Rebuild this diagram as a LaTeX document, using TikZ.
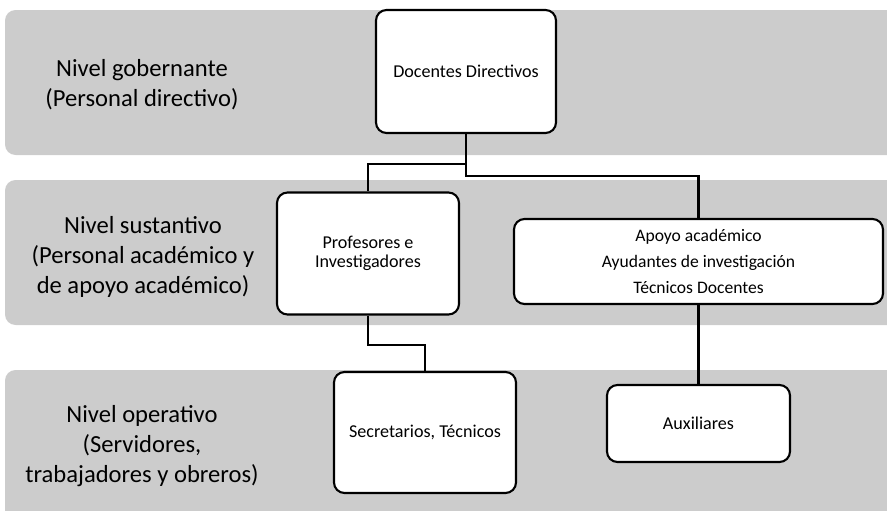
\documentclass[tikz,border=0pt]{standalone}
\usepackage{fontspec}
\setmainfont{Carlito}
\usetikzlibrary{positioning}

\tikzset{
	caja/.style={draw,line width=1.2pt,rounded corners=6pt,fill=white,align=center,
		font=\fontsize{10.3}{11}\selectfont,inner sep=2pt},
	nivel/.style={align=center,font=\fontsize{14}{17}\selectfont},
	banda/.style={fill=black!20,rounded corners=6pt},
	linea/.style={line width=1.2pt}
}

\begin{document}
\begin{tikzpicture}[x=0.02cm,y=-0.02cm]

	\def\px{0.02cm}

	\useasboundingbox (0,0) rectangle (887,511);

	\fill[banda] (5,10) rectangle (900,155);
	\fill[banda] (5,180) rectangle (900,325);
	\fill[banda] (5,370) rectangle (900,530);

	\node[nivel] (n1) at (142,85) {Nivel gobernante\\(Personal directivo)};
	\node[nivel] (n2) at (143,257) {Nivel sustantivo\\(Personal académico y\\de apoyo académico)};
	\node[nivel] (n3) at (142,446) {Nivel operativo\\(Servidores,\\trabajadores y obreros)};

	\node[caja,minimum width=180*\px,minimum height=123*\px] (doc) at (466,71.5) {Docentes Directivos};
	\node[caja,minimum width=182*\px,minimum height=122*\px] (prof) at (368,253.5) {Profesores e\\Investigadores};
	\node[caja,minimum width=369*\px,minimum height=85*\px,font=\fontsize{10}{14.8}\selectfont] (apoyo) at (698.5,261.5)
		{Apoyo académico\\Ayudantes de investigación\\Técnicos Docentes};
	\node[caja,minimum width=182*\px,minimum height=121*\px] (sec) at (425,432.5) {Secretarios, Técnicos};
	\node[caja,minimum width=183*\px,minimum height=77*\px] (aux) at (698.5,423.5) {Auxiliares};

	\draw[linea] (doc.south) -- ++(0,30) -| (prof.north);
	\draw[linea] (doc.south) -- ++(0,42) -| (apoyo.north);
	\draw[linea] (prof.south) -- ++(0,29) -| (sec.north);
	\draw[linea] (apoyo.south) -- (aux.north);
\end{tikzpicture}
\end{document}
